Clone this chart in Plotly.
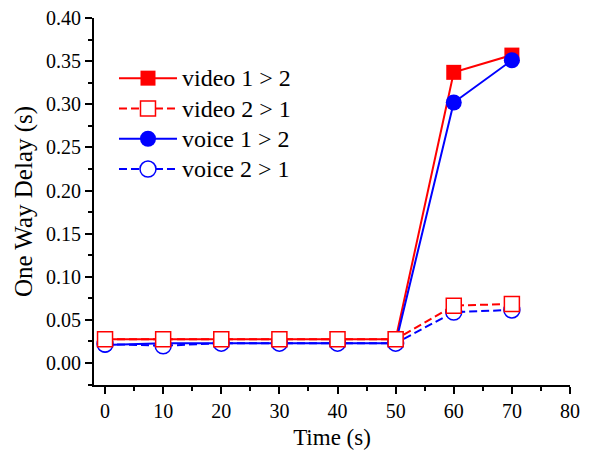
import plotly.graph_objects as go

time_s = [0, 10, 20, 30, 40, 50, 60, 70]
video_1_2 = [0.0275, 0.0275, 0.0275, 0.0275, 0.0275, 0.0275, 0.337, 0.357]
video_2_1 = [0.0275, 0.0275, 0.0275, 0.0275, 0.0275, 0.0275, 0.0665, 0.0685]
voice_1_2 = [0.021, 0.023, 0.023, 0.023, 0.023, 0.023, 0.302, 0.351]
voice_2_1 = [0.022, 0.020, 0.023, 0.023, 0.023, 0.023, 0.059, 0.0615]
names = ["video 1 > 2", "video 2 > 1", "voice 1 > 2", "voice 2 > 1"]

RED = "#ff0000"
BLUE = "#0000ff"
FONT = "Liberation Serif, Times New Roman, serif"
DASH = "8px,4px"


def lab(t):
    return "<span style='font-size:24px'>" + t + "</span>"


fig = go.Figure()
fig.add_trace(go.Scatter(x=time_s, y=video_1_2, name=lab(names[0]), mode="lines+markers",
                         line=dict(color=RED, width=2),
                         marker=dict(symbol="square", size=15, color=RED), legendrank=1))
fig.add_trace(go.Scatter(x=time_s, y=voice_1_2, name=lab(names[2]), mode="lines+markers",
                         line=dict(color=BLUE, width=2),
                         marker=dict(symbol="circle", size=16, color=BLUE), legendrank=3))
fig.add_trace(go.Scatter(x=time_s, y=voice_2_1, name=lab(names[3]), mode="lines+markers",
                         line=dict(color=BLUE, width=2, dash=DASH),
                         marker=dict(symbol="circle", size=16, color="white",
                                     line=dict(color=BLUE, width=1.5)), legendrank=4))
fig.add_trace(go.Scatter(x=time_s, y=video_2_1, name=lab(names[1]), mode="lines+markers",
                         line=dict(color=RED, width=2, dash=DASH),
                         marker=dict(symbol="square", size=15, color="white",
                                     line=dict(color=RED, width=1.5)), legendrank=2))

fig.update_layout(
    width=589, height=442,
    margin=dict(l=86, r=27, t=10, b=65),
    plot_bgcolor="white", paper_bgcolor="white",
    font=dict(family=FONT, size=20, color="black"),
    showlegend=True,
    legend=dict(x=0.042, y=0.891, xanchor="left", yanchor="top",
                font=dict(family=FONT, size=21), bgcolor="rgba(0,0,0,0)",
                itemwidth=58, tracegroupgap=0),
    xaxis=dict(range=[-1.9, 80], tickvals=[0, 10, 20, 30, 40, 50, 60, 70, 80],
               automargin=False, ticklabeloverflow="allow",
               showgrid=False, zeroline=False, showline=True, linecolor="black", linewidth=2,
               ticks="outside", ticklen=7, tickwidth=2, tickcolor="black",
               minor=dict(dtick=5, tick0=0, ticks="outside", ticklen=4, tickwidth=2, tickcolor="black"),
               title=dict(text="Time (s)", font=dict(family=FONT, size=23), standoff=9),
               tickfont=dict(family=FONT, size=20)),
    yaxis=dict(range=[-0.0255, 0.40], tickvals=[0, 0.05, 0.10, 0.15, 0.20, 0.25, 0.30, 0.35, 0.40],
               tickformat=".2f", automargin=False, ticklabeloverflow="allow",
               showgrid=False, zeroline=False, showline=True, linecolor="black", linewidth=2,
               ticks="outside", ticklen=7, tickwidth=2, tickcolor="black",
               minor=dict(dtick=0.025, tick0=0, ticks="outside", ticklen=4, tickwidth=2, tickcolor="black"),
               title=dict(text="One Way Delay (s)", font=dict(family=FONT, size=25), standoff=6),
               tickfont=dict(family=FONT, size=20)),
)

fig.write_html("out.html")
